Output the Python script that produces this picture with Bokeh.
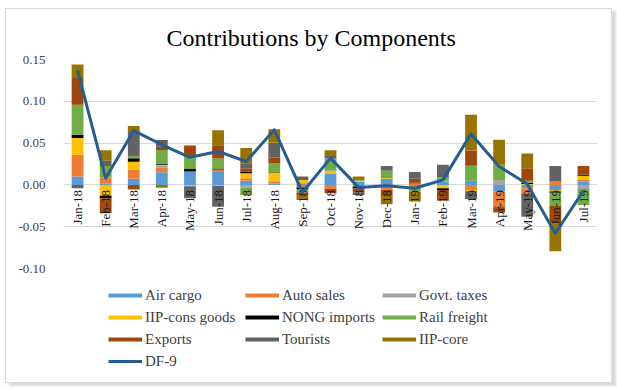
import math
from bokeh.plotting import figure
from bokeh.layouts import column
from bokeh.models import (ColumnDataSource, FactorRange, Range1d, Legend, LegendItem,
                          NumeralTickFormatter, FixedTicker)
from bokeh.embed import file_html
from bokeh.resources import INLINE
from bokeh.core.properties import value

months = ["Jan-18", "Feb-18", "Mar-18", "Apr-18", "May-18", "Jun-18", "Jul-18", "Aug-18",
          "Sep-18", "Oct-18", "Nov-18", "Dec-18", "Jan-19", "Feb-19", "Mar-19", "Apr-19",
          "May-19", "Jun-19", "Jul-19"]

air_cargo = [0.010, 0.002, 0.0075, 0.015, 0.016, 0.0155, 0.005, 0.0015, 0.002, 0.013,
             0.004, 0.007, 0.0, 0.004, 0.005, -0.008, -0.004, -0.006, 0.004]
auto_sales = [0.026, 0.007, 0.0105, 0.0055, 0.0, 0.003, 0.003, 0.003, -0.003, -0.005,
              -0.002, -0.006, 0.002, 0.001, -0.006, -0.018, -0.006, 0.004, 0.002]
govt_taxes = [0.0, 0.0, 0.0, 0.003, 0.0, 0.0, -0.003, 0.0, 0.0, 0.0,
              0.0, 0.0, 0.0, 0.0, 0.0, 0.006, 0.0, 0.0, -0.005]
iip_cons_goods = [0.020, -0.013, 0.0098, 0.0005, -0.0015, -0.001, 0.006, 0.010, 0.004, 0.004,
                  0.001, 0.001, 0.0, -0.004, -0.002, 0.0, 0.001, -0.002, 0.005]
nong_imports = [0.004, -0.003, 0.004, 0.001, 0.003, 0.001, 0.002, 0.0005, -0.002, 0.0,
                -0.002, 0.0, 0.0005, -0.002, -0.001, -0.001, 0.0015, -0.0015, 0.0015]
rail_freight = [0.036, 0.0135, 0.0027, 0.0167, 0.014, 0.012, -0.009, 0.0105, -0.004, 0.0145,
                0.001, 0.009, -0.008, 0.004, 0.018, 0.018, 0.0025, -0.015, -0.019]
exports = [0.032, -0.018, -0.0055, 0.004, 0.014, 0.016, 0.004, 0.007, -0.004, -0.005,
           -0.005, -0.006, 0.005, -0.013, 0.018, -0.006, 0.015, -0.022, 0.010]
tourists = [-0.004, 0.0063, 0.030, 0.008, -0.0145, -0.025, 0.006, 0.018, 0.004, 0.003,
            -0.003, 0.0055, 0.008, 0.015, -0.008, 0.0, -0.028, 0.0185, 0.0]
iip_core = [0.016, 0.0127, 0.006, -0.0035, 0.0, 0.018, 0.018, 0.016, -0.005, 0.007,
            0.004, -0.011, -0.012, 0.0, 0.043, 0.030, 0.0175, -0.033, 0.0]
df9 = [0.137, 0.008, 0.065, 0.048, 0.033, 0.040, 0.028, 0.066, -0.009, 0.032,
       -0.003, -0.001, -0.004, 0.006, 0.061, 0.022, 0.001, -0.058, -0.007]

series_names = ["Air cargo", "Auto sales", "Govt. taxes", "IIP-cons goods", "NONG imports",
                "Rail freight", "Exports", "Tourists", "IIP-core"]
series_values = [air_cargo, auto_sales, govt_taxes, iip_cons_goods, nong_imports,
                 rail_freight, exports, tourists, iip_core]
colors = ["#5B9BD5", "#ED7D31", "#A5A5A5", "#FFC000", "#000000",
          "#70AD47", "#9E480E", "#636363", "#997300"]
line_color = "#255E91"
y_ticks = [-0.10, -0.05, 0.0, 0.05, 0.10, 0.15]

data = {"month": months, "zero": [0.0] * len(months), "df9": df9}
pos_keys, neg_keys = [], []
for i, vals in enumerate(series_values):
    data[f"p{i}"] = [max(v, 0.0) for v in vals]
    data[f"n{i}"] = [min(v, 0.0) for v in vals]
    pos_keys.append(f"p{i}")
    neg_keys.append(f"n{i}")
src = ColumnDataSource(data)

FONT = "Liberation Serif"

p = figure(x_range=FactorRange(*months), y_range=Range1d(-0.10, 0.15),
           width=605, height=269, output_backend="svg", toolbar_location=None,
           min_border_left=57, min_border_right=14, min_border_top=50, min_border_bottom=10)
p.outline_line_color = None

p.title.text = "Contributions by Components"
p.title.align = "left"
p.title.offset = 103
p.title.text_font = FONT
p.title.text_font_size = "24px"
p.title.text_font_style = "normal"
p.title.text_color = "#000000"
p.title.standoff = 17

p.xaxis.visible = False
p.xgrid.visible = False
p.ygrid.grid_line_color = "#d9d9d9"
p.yaxis.ticker = FixedTicker(ticks=y_ticks)
p.yaxis.formatter = NumeralTickFormatter(format="0.00")
p.yaxis.axis_line_color = None
p.yaxis.major_tick_line_color = None
p.yaxis.minor_tick_line_color = None
p.yaxis.major_tick_out = 0
p.yaxis.major_tick_in = 0
p.yaxis.major_label_standoff = 18
p.yaxis.major_label_text_font = FONT
p.yaxis.major_label_text_font_size = "13px"
p.yaxis.major_label_text_color = "#404040"

p.vbar_stack(pos_keys, x="month", width=0.42, source=src, fill_color=colors, line_color=None)
p.vbar_stack(neg_keys, x="month", width=0.42, source=src, fill_color=colors, line_color=None)

# category labels drawn at the zero line, on top of the bars
p.text(x="month", y="zero", text="month", source=src, angle=math.pi / 2,
       text_align="right", text_baseline="middle", y_offset=5,
       text_font=value(FONT), text_font_size="13px", text_color="#1a1a1a")

p.line(x="month", y="df9", source=src, line_width=3, line_color=line_color, line_join="round")

# legend panel (legend-only proxy renderers, nothing visible is plotted)
lg = figure(width=605, height=104, output_backend="svg", toolbar_location=None,
            x_axis_type=None, y_axis_type=None, min_border=0,
            x_range=Range1d(0, 1), y_range=Range1d(0, 1))
lg.outline_line_color = None
lg.grid.visible = False

nan = float("nan")
items = []
for name, c in zip(series_names, colors):
    proxy = lg.line(x=[nan], y=[nan], line_width=4, line_color=c, line_cap="butt")
    items.append(LegendItem(label=name, renderers=[proxy]))
df_proxy = lg.line(x=[nan], y=[nan], line_width=3, line_color=line_color)
items.append(LegendItem(label="DF-9", renderers=[df_proxy]))

legend = Legend(items=items, location=(45, 11), orientation="horizontal", ncols=3,
                glyph_width=34, glyph_height=20, label_standoff=3, label_width=98,
                label_height=20, spacing=2, padding=0, margin=0,
                border_line_color=None, background_fill_alpha=0,
                label_text_font=FONT, label_text_font_size="15px",
                label_text_color="#404040")
lg.add_layout(legend, "center")

layout = column(p, lg, spacing=0)
layout.styles = {"border": "1px solid #d9d9d9", "margin-left": "5px", "margin-top": "8px",
                 "box-shadow": "4px 3px 2px #dadada"}

open("out.html", "w").write(file_html(layout, INLINE))
